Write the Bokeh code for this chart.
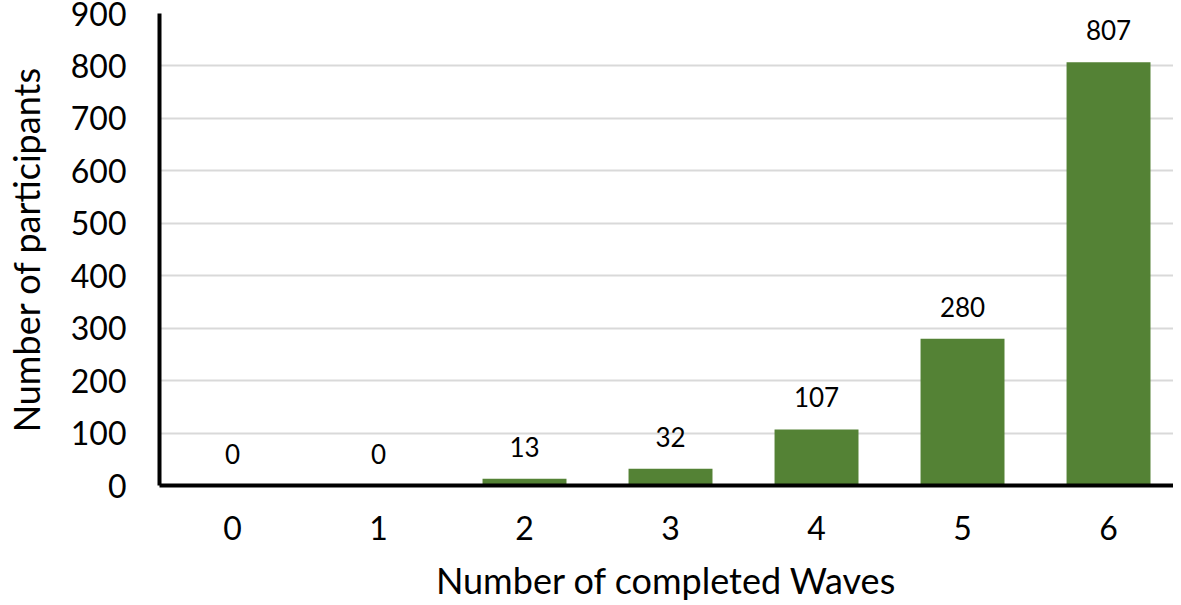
from bokeh.plotting import figure
from bokeh.models import ColumnDataSource, Range1d, FixedTicker
from bokeh.core.properties import value
from bokeh.embed import file_html
from bokeh.resources import INLINE

waves = [0, 1, 2, 3, 4, 5, 6]
participants = [0, 0, 13, 32, 107, 280, 807]
labels = [str(v) for v in participants]
y_ticks = [0, 100, 200, 300, 400, 500, 600, 700, 800, 900]

FONT = "Lato"
GREEN = "#548235"

src = ColumnDataSource(dict(x=waves, y=participants, label=labels))

p = figure(
    output_backend="svg", toolbar_location=None,
    frame_width=1014, frame_height=472,
    min_border_left=140, min_border_right=0, min_border_top=13, min_border_bottom=105,
    x_range=Range1d(-0.5, 6.445), y_range=Range1d(0, 900),
    background_fill_color="white", border_fill_color="white",
)
p.outline_line_color = None

p.vbar(x="x", top="y", width=0.575, bottom=0, source=src,
       fill_color=GREEN, line_color=None)

p.text(x="x", y="y", text="label", source=src,
       text_font=value(FONT), text_font_size="26px", text_color="black",
       text_align="center", text_baseline="alphabetic", y_offset=-32)

# axes
p.xaxis.ticker = FixedTicker(ticks=waves)
p.yaxis.ticker = FixedTicker(ticks=y_ticks)
p.xgrid.grid_line_color = None
p.ygrid.grid_line_color = "#d9d9d9"
p.ygrid.grid_line_width = 2

for ax in (p.xaxis, p.yaxis):
    ax.axis_line_color = "black"
    ax.axis_line_width = 4
    ax.major_tick_line_color = None
    ax.minor_tick_line_color = None
    ax.major_tick_in = 0
    ax.major_tick_out = 0
    ax.major_label_text_font = FONT
    ax.major_label_text_font_size = "32px"
    ax.major_label_text_color = "black"
    ax.axis_label_text_font = FONT
    ax.axis_label_text_font_size = "36px"
    ax.axis_label_text_font_style = "normal"
    ax.axis_label_text_color = "black"

p.xaxis.axis_label = "Number of completed Waves"
p.yaxis.axis_label = "Number of participants"
p.xaxis.major_label_standoff = 30
p.yaxis.major_label_standoff = 33
p.xaxis.axis_label_standoff = 15
p.yaxis.axis_label_standoff = 20

open("out.html", "w").write(file_html(p, INLINE))
